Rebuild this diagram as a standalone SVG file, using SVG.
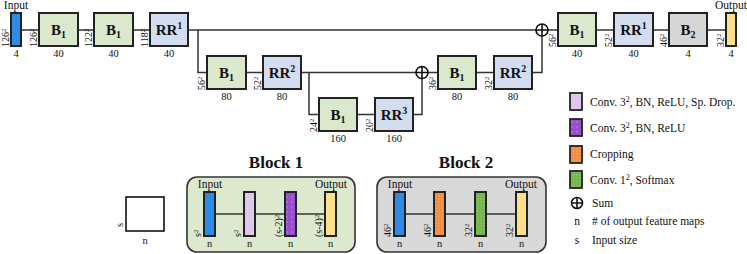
<svg xmlns="http://www.w3.org/2000/svg" width="747" height="254" viewBox="0 0 747 254">
<defs>
<style>
text{font-family:"Liberation Serif","Times New Roman",serif;fill:#111}
.box{stroke:#222;stroke-width:2}
.b1{fill:#dae8cc}
.rr{fill:#d3ddf0}
.b2{fill:#d6d6d6}
.inp{fill:#2b8be6;stroke:#222;stroke-width:2}
.out{fill:#fde08c;stroke:#222;stroke-width:2}
.lbl{font-size:15px;font-weight:bold;text-anchor:middle}
.n{font-size:10.5px;text-anchor:middle}
.sz{font-size:10px}
.cap{font-size:11.5px;text-anchor:middle}
.leg{font-size:11.5px}
.conn{fill:none;stroke:#333;stroke-width:1.5}
.sum circle{fill:#fff;stroke:#111;stroke-width:1.6}
.sum path{stroke:#111;stroke-width:1.6}
.blk{stroke:#333;stroke-width:1.6}
.title{font-size:17px;font-weight:bold;text-anchor:middle}
</style>
<pattern id="pLP" width="3" height="3" patternUnits="userSpaceOnUse"><rect width="3" height="3" fill="#dcc3ec"/><circle cx="1" cy="1" r="0.6" fill="#f4ecfa"/></pattern>
<pattern id="pP" width="5" height="5" patternUnits="userSpaceOnUse"><rect width="5" height="5" fill="#9a4fcf"/><circle cx="2" cy="2" r="0.5" fill="#e6d3f3"/></pattern>
<pattern id="pO" width="3" height="3" patternUnits="userSpaceOnUse"><rect width="3" height="3" fill="#f28a3c"/><circle cx="1" cy="1" r="0.6" fill="#fbd0ad"/></pattern>
<pattern id="pG" width="3" height="3" patternUnits="userSpaceOnUse"><rect width="3" height="3" fill="#72b44a"/><circle cx="1" cy="1" r="0.6" fill="#c2e0ac"/></pattern>
</defs>

<g id="connectors">
<path class="conn" d="M21,30H39M78,30H94M133,30H150M188,30H536M548,30H558M596,30H614M653,30H669M707,30H726"/>
<path class="conn" d="M198,30V72.5H207M246,72.5H263M301,72.5H416M428,72.5H438M476,72.5H494M532,72.5H542V36"/>
<path class="conn" d="M309,72.5V114.5H319M357,114.5H375M413,114.5H422V78.5"/>
</g>

<g id="input">
<text x="16" y="9" class="cap">Input</text>
<rect class="inp" x="11" y="13" width="10" height="33"/>
<text class="n" x="16" y="57">4</text>
<text class="sz" transform="translate(9,47) rotate(-90)">126<tspan dy="-3.5" font-size="6.5">2</tspan></text>
</g>
<g id="b1_1">
<rect class="box b1" x="39" y="13" width="39" height="33"/>
<text class="lbl" x="58.5" y="35">B<tspan dy="3" font-size="10">1</tspan></text>
<text class="n" x="58.5" y="57">40</text>
<text class="sz" transform="translate(37,47) rotate(-90)">126<tspan dy="-3.5" font-size="6.5">2</tspan></text>
</g>
<g id="b1_2">
<rect class="box b1" x="94" y="13" width="39" height="33"/>
<text class="lbl" x="113.5" y="35">B<tspan dy="3" font-size="10">1</tspan></text>
<text class="n" x="113.5" y="57">40</text>
<text class="sz" transform="translate(92,47) rotate(-90)">122<tspan dy="-3.5" font-size="6.5">2</tspan></text>
</g>
<g id="rr1_1">
<rect class="box rr" x="150" y="13" width="38" height="33"/>
<text class="lbl" x="169" y="35">RR<tspan dy="-6" font-size="10">1</tspan></text>
<text class="n" x="169" y="57">40</text>
<text class="sz" transform="translate(148,47) rotate(-90)">118<tspan dy="-3.5" font-size="6.5">2</tspan></text>
</g>
<g id="b1_3">
<rect class="box b1" x="207" y="56" width="39" height="33"/>
<text class="lbl" x="226.5" y="78">B<tspan dy="3" font-size="10">1</tspan></text>
<text class="n" x="226.5" y="100">80</text>
<text class="sz" transform="translate(205,90) rotate(-90)">56<tspan dy="-3.5" font-size="6.5">2</tspan></text>
</g>
<g id="rr2_1">
<rect class="box rr" x="263" y="56" width="38" height="33"/>
<text class="lbl" x="282" y="78">RR<tspan dy="-6" font-size="10">2</tspan></text>
<text class="n" x="282" y="100">80</text>
<text class="sz" transform="translate(261,90) rotate(-90)">52<tspan dy="-3.5" font-size="6.5">2</tspan></text>
</g>
<g id="b1_4">
<rect class="box b1" x="319" y="98" width="38" height="33"/>
<text class="lbl" x="338" y="120">B<tspan dy="3" font-size="10">1</tspan></text>
<text class="n" x="338" y="142">160</text>
<text class="sz" transform="translate(317,132) rotate(-90)">24<tspan dy="-3.5" font-size="6.5">2</tspan></text>
</g>
<g id="rr3">
<rect class="box rr" x="375" y="98" width="38" height="33"/>
<text class="lbl" x="394" y="120">RR<tspan dy="-6" font-size="10">3</tspan></text>
<text class="n" x="394" y="142">160</text>
<text class="sz" transform="translate(373,132) rotate(-90)">20<tspan dy="-3.5" font-size="6.5">2</tspan></text>
</g>
<g id="sum2" class="sum">
<circle cx="422" cy="72.5" r="6"/>
<path d="M416,72.5H428M422,66.5V78.5"/>
</g>
<g id="b1_5">
<rect class="box b1" x="438" y="56" width="38" height="33"/>
<text class="lbl" x="457" y="78">B<tspan dy="3" font-size="10">1</tspan></text>
<text class="n" x="457" y="100">80</text>
<text class="sz" transform="translate(436,90) rotate(-90)">36<tspan dy="-3.5" font-size="6.5">2</tspan></text>
</g>
<g id="rr2_2">
<rect class="box rr" x="494" y="56" width="38" height="33"/>
<text class="lbl" x="513" y="78">RR<tspan dy="-6" font-size="10">2</tspan></text>
<text class="n" x="513" y="100">80</text>
<text class="sz" transform="translate(492,90) rotate(-90)">32<tspan dy="-3.5" font-size="6.5">2</tspan></text>
</g>
<g id="sum1" class="sum">
<circle cx="542" cy="30" r="6"/>
<path d="M536,30H548M542,24V36"/>
</g>
<g id="b1_6">
<rect class="box b1" x="558" y="13" width="38" height="33"/>
<text class="lbl" x="577" y="35">B<tspan dy="3" font-size="10">1</tspan></text>
<text class="n" x="577" y="57">40</text>
<text class="sz" transform="translate(556,47) rotate(-90)">56<tspan dy="-3.5" font-size="6.5">2</tspan></text>
</g>
<g id="rr1_2">
<rect class="box rr" x="614" y="13" width="39" height="33"/>
<text class="lbl" x="633.5" y="35">RR<tspan dy="-6" font-size="10">1</tspan></text>
<text class="n" x="633.5" y="57">40</text>
<text class="sz" transform="translate(612,47) rotate(-90)">52<tspan dy="-3.5" font-size="6.5">2</tspan></text>
</g>
<g id="b2">
<rect class="box b2" x="669" y="13" width="38" height="33"/>
<text class="lbl" x="688" y="35">B<tspan dy="3" font-size="10">2</tspan></text>
<text class="n" x="688" y="57">4</text>
<text class="sz" transform="translate(667,47) rotate(-90)">46<tspan dy="-3.5" font-size="6.5">2</tspan></text>
</g>
<g id="output">
<text x="731" y="9" class="cap">Output</text>
<rect class="out" x="726" y="13" width="10" height="33"/>
<text class="n" x="731" y="57">4</text>
<text class="sz" transform="translate(724,47) rotate(-90)">32<tspan dy="-3.5" font-size="6.5">2</tspan></text>
</g>

<g id="legend">
<rect x="570" y="93" width="12" height="17" fill="url(#pLP)" stroke="#222" stroke-width="1.8"/>
<text class="leg" x="590" y="106">Conv. 3<tspan dy="-4" font-size="8">2</tspan><tspan dy="4">, BN, ReLU, Sp. Drop.</tspan></text>
<rect x="570" y="119" width="12" height="17" fill="url(#pP)" stroke="#222" stroke-width="1.8"/>
<text class="leg" x="590" y="132">Conv. 3<tspan dy="-4" font-size="8">2</tspan><tspan dy="4">, BN, ReLU</tspan></text>
<rect x="570" y="146" width="12" height="17" fill="url(#pO)" stroke="#222" stroke-width="1.8"/>
<text class="leg" x="590" y="158">Cropping</text>
<rect x="570" y="171" width="12" height="17" fill="url(#pG)" stroke="#222" stroke-width="1.8"/>
<text class="leg" x="590" y="184">Conv. 1<tspan dy="-4" font-size="8">2</tspan><tspan dy="4">, Softmax</tspan></text>
<g class="sum"><circle cx="577" cy="203" r="5.5"/><path d="M571.5,203H582.5M577,197.5V208.5"/></g>
<text class="leg" x="592" y="207">Sum</text>
<text class="leg" x="577" y="225" text-anchor="middle" font-size="10">n</text>
<text class="leg" x="592" y="225"># of output feature maps</text>
<text class="leg" x="577" y="244" text-anchor="middle" font-size="10">s</text>
<text class="leg" x="592" y="244">Input size</text>
</g>

<g id="key">
<rect x="126" y="197" width="38" height="34" fill="#fff" stroke="#111" stroke-width="1.6"/>
<text class="n" transform="translate(123,225) rotate(-90)">s</text>
<text class="n" x="145" y="244">n</text>
</g>

<g id="block1">
<text class="title" x="276" y="168">Block 1</text>
<rect class="blk" x="187" y="177" width="168" height="75" rx="10" fill="#dce9cf"/>
<path class="conn" d="M215,214H325"/>
<text class="cap" x="210" y="188">Input</text>
<text class="cap" x="331" y="188">Output</text>
<rect class="inp" x="204" y="192" width="11" height="44"/>
<rect x="244" y="192" width="11" height="44" fill="url(#pLP)" stroke="#222" stroke-width="2"/>
<rect x="285" y="192" width="11" height="44" fill="url(#pP)" stroke="#222" stroke-width="2"/>
<rect class="out" x="325" y="192" width="11" height="44"/>
<text class="n" x="209.5" y="247">n</text>
<text class="n" x="249.5" y="247">n</text>
<text class="n" x="290.5" y="247">n</text>
<text class="n" x="330.5" y="247">n</text>
<text class="sz" transform="translate(201,237) rotate(-90)">s<tspan dy="-3.5" font-size="6.5">2</tspan></text>
<text class="sz" transform="translate(241,237) rotate(-90)">s<tspan dy="-3.5" font-size="6.5">2</tspan></text>
<text class="sz" transform="translate(282,237) rotate(-90)">(s-2)<tspan dy="-3.5" font-size="6.5">2</tspan></text>
<text class="sz" transform="translate(322,237) rotate(-90)">(s-4)<tspan dy="-3.5" font-size="6.5">2</tspan></text>
</g>

<g id="block2">
<text class="title" x="466" y="168">Block 2</text>
<rect class="blk" x="377" y="177" width="169" height="75" rx="10" fill="#d9d9d9"/>
<path class="conn" d="M405,214H516"/>
<text class="cap" x="400" y="188">Input</text>
<text class="cap" x="521" y="188">Output</text>
<rect class="inp" x="394" y="192" width="11" height="44"/>
<rect x="434" y="192" width="11" height="44" fill="url(#pO)" stroke="#222" stroke-width="2"/>
<rect x="475" y="192" width="11" height="44" fill="url(#pG)" stroke="#222" stroke-width="2"/>
<rect class="out" x="516" y="192" width="11" height="44"/>
<text class="n" x="399.5" y="247">n</text>
<text class="n" x="439.5" y="247">n</text>
<text class="n" x="480.5" y="247">n</text>
<text class="n" x="521.5" y="247">n</text>
<text class="sz" transform="translate(391,237) rotate(-90)">46<tspan dy="-3.5" font-size="6.5">2</tspan></text>
<text class="sz" transform="translate(431,237) rotate(-90)">46<tspan dy="-3.5" font-size="6.5">2</tspan></text>
<text class="sz" transform="translate(472,237) rotate(-90)">32<tspan dy="-3.5" font-size="6.5">2</tspan></text>
<text class="sz" transform="translate(513,237) rotate(-90)">32<tspan dy="-3.5" font-size="6.5">2</tspan></text>
</g>
</svg>
